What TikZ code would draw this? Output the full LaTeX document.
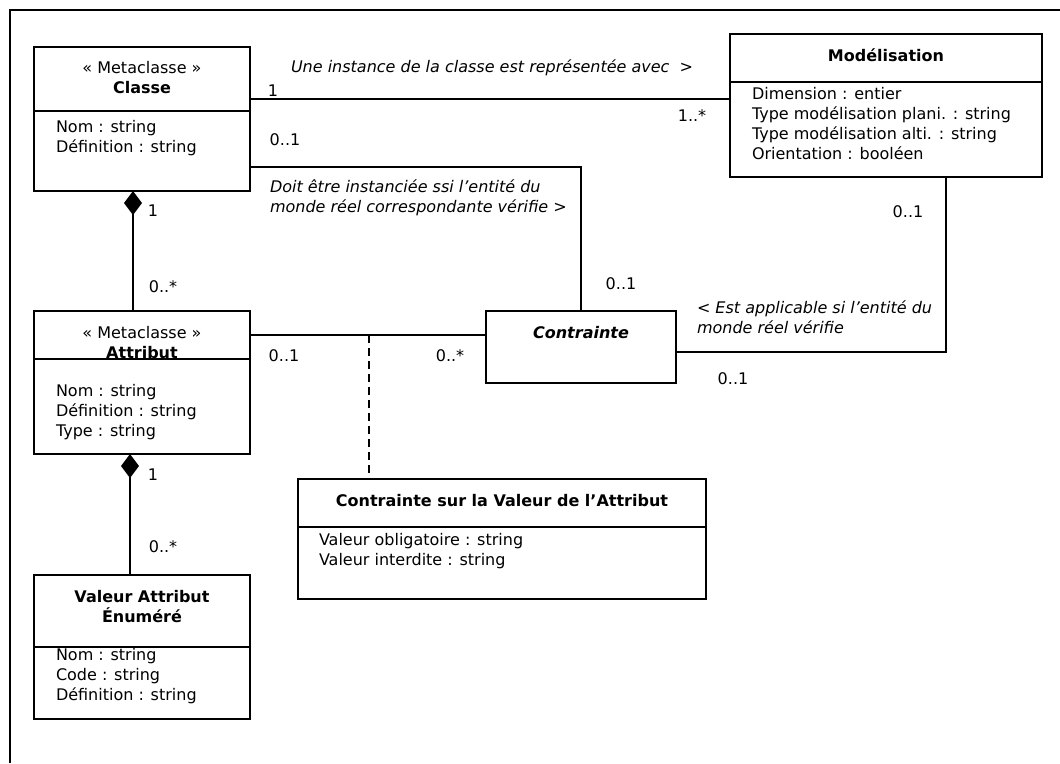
\documentclass[tikz,border=0pt]{standalone}
\usepackage{fontspec}
\setmainfont{DejaVu Sans}
\usetikzlibrary{arrows.meta}

\begin{document}
\begin{tikzpicture}[x=1pt, y=-1pt, line width=2pt,
    font=\fontsize{16}{20}\selectfont,
    classbox/.style={draw, anchor=north west, inner sep=0pt, outer sep=0pt},
    attrs/.style={anchor=base west, align=left, inner sep=0pt},
    role/.style={anchor=base west, align=left, inner sep=0pt, font=\fontsize{16}{20}\selectfont\itshape},
    mult/.style={inner sep=0pt},
    compo/.style={{Diamond[length=24pt, width=18pt]}-}]
    \useasboundingbox (0,0) rectangle (1060,763);
    % Frame
    \draw (10,763) -- (10,10) -- (1060,10);

    % Classe
    \node[classbox, minimum width=216pt, minimum height=144pt] (classe) at (34,47) {};
    \draw (classe.west |- 0,111) -- (classe.east |- 0,111);
    \node[align=center] (classeTitre) at (142,78) {« Metaclasse »\\\textbf{Classe}};
    \node[attrs] (classeAttrs) at (55,152) {Nom : string\\Définition : string};

    % Modelisation
    \node[classbox, minimum width=312pt, minimum height=143pt] (modelisation) at (730,34) {};
    \draw (modelisation.west |- 0,82) -- (modelisation.east |- 0,82);
    \node[font=\fontsize{16}{20}\selectfont\bfseries] (modelisationTitre) at (886,55) {Modélisation};
    \node[attrs] (modelisationAttrs) at (751,159) {Dimension : entier\\Type modélisation plani. : string\\Type modélisation alti. : string\\Orientation : booléen};

    % Attribut
    \node[classbox, minimum width=216pt, minimum height=143pt] (attribut) at (34,311) {};
    \draw (attribut.west |- 0,359) -- (attribut.east |- 0,359);
    \node[align=center] (attributTitre) at (142,343) {« Metaclasse »\\\textbf{Attribut}};
    \node[attrs] (attributAttrs) at (55,436) {Nom : string\\Définition : string\\Type : string};

    % Valeur attribut enumere
    \node[classbox, minimum width=216pt, minimum height=144pt] (valeur) at (34,575) {};
    \draw (valeur.west |- 0,647) -- (valeur.east |- 0,647);
    \node[align=center, font=\fontsize{16}{20}\selectfont\bfseries] (valeurTitre) at (142,607) {Valeur Attribut\\Énuméré};
    \node[attrs] (valeurAttrs) at (55,700) {Nom : string\\Code : string\\Définition : string};

    % Contrainte
    \node[classbox, minimum width=190pt, minimum height=72pt] (contrainte) at (486,311) {};
    \node[font=\fontsize{16}{20}\selectfont\bfseries\itshape] (contrainteTitre) at (581,333) {Contrainte};

    % Contrainte sur la valeur
    \node[classbox, minimum width=408pt, minimum height=120pt] (contrainteval) at (298,479) {};
    \draw (contrainteval.west |- 0,527) -- (contrainteval.east |- 0,527);
    \node[font=\fontsize{16}{20}\selectfont\bfseries] (contraintevalTitre) at (502,501) {Contrainte sur la Valeur de l’Attribut};
    \node[attrs] (contraintevalAttrs) at (318,565) {Valeur obligatoire : string\\Valeur interdite : string};

    % Associations
    \draw (classe.east |- 0,99) -- (modelisation.west |- 0,99);
    \draw (classe.east |- 0,167) -| (contrainte.north);
    \draw (modelisation.south -| 946,0) |- (contrainte.east |- 0,352);
    \draw (attribut.east |- 0,335) -- (contrainte.west |- 0,335);
    \coordinate (jonction) at (369,335);
    \draw[dash pattern=on 8pt off 5pt] (jonction) -- (contrainteval.north -| jonction);

    % Compositions
    \draw[compo] (classe.south -| 133,0) -- (attribut.north -| 133,0);
    \draw[compo] (attribut.south -| 130,0) -- (valeur.north -| 130,0);

    % Roles
    \node[role] (roleInstance) at (290,72) {Une instance de la classe est représentée avec\ \ >};
    \node[role] (roleDoit) at (269,212) {Doit être instanciée ssi l’entité du\\monde réel correspondante vérifie >};
    \node[role] (roleApplicable) at (696,333) {< Est applicable si l’entité du\\monde réel vérifie};

    % Multiplicities
    \node[mult] (mClasseModel) at (273,91) {1};
    \node[mult] (mModelClasse) at (692,116) {1..*};
    \node[mult] (mClasseContr) at (285,140) {0..1};
    \node[mult] (mContrClasse) at (621,284) {0..1};
    \node[mult] (mModelContr) at (908,212) {0..1};
    \node[mult] (mContrModel) at (733,379) {0..1};
    \node[mult] (mAttribContr) at (284,356) {0..1};
    \node[mult] (mContrAttrib) at (450,356) {0..*};
    \node[mult] (mClasseAttrib) at (153,211) {1};
    \node[mult] (mAttribClasse) at (163,287) {0..*};
    \node[mult] (mAttribValeur) at (153,475) {1};
    \node[mult] (mValeurAttrib) at (163,547) {0..*};
\end{tikzpicture}
\end{document}
